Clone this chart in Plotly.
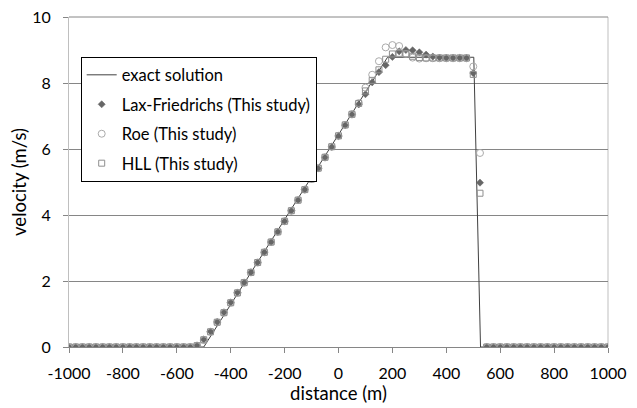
import plotly.graph_objects as go

# distance grid of the numerical solutions (m)
distance = list(range(-1000, 1001, 25))

zeros19 = [0.0] * 19

# Lax-Friedrichs (This study)
lf_mid = [0.05, 0.23, 0.47, 0.76, 1.05, 1.35, 1.65, 1.95, 2.26, 2.56, 2.87, 3.18, 3.49,
          3.81, 4.13, 4.45, 4.77, 5.09, 5.41, 5.74, 6.06, 6.39, 6.72, 7.04, 7.35, 7.66,
          8.02, 8.33, 8.54, 8.79, 8.96, 9.00, 8.99, 8.93, 8.86, 8.80, 8.77, 8.76, 8.76,
          8.76, 8.76, 8.30, 4.98]
lax_friedrichs = zeros19 + lf_mid + zeros19

# Roe (This study)
roe_mid = [0.03, 0.21, 0.46, 0.75, 1.04, 1.34, 1.64, 1.95, 2.26, 2.56, 2.87, 3.18, 3.49,
           3.81, 4.13, 4.45, 4.77, 5.09, 5.42, 5.75, 6.07, 6.40, 6.73, 7.06, 7.39, 7.86,
           8.25, 8.66, 9.08, 9.15, 9.12, 8.88, 8.77, 8.74, 8.75, 8.75, 8.75, 8.75, 8.75,
           8.75, 8.75, 8.50, 5.88]
roe = zeros19 + roe_mid + zeros19

# HLL (This study)
hll_mid = [0.04, 0.22, 0.46, 0.75, 1.04, 1.34, 1.64, 1.95, 2.26, 2.56, 2.87, 3.18, 3.49,
           3.81, 4.13, 4.45, 4.77, 5.09, 5.42, 5.75, 6.07, 6.40, 6.73, 7.05, 7.38, 7.76,
           8.08, 8.40, 8.72, 8.88, 8.90, 8.88, 8.81, 8.77, 8.76, 8.76, 8.76, 8.76, 8.76,
           8.76, 8.76, 8.26, 4.66]
hll = zeros19 + hll_mid + zeros19

# exact solution (polyline vertices)
exact_x = [-1000, -500, 182, 502, 527, 1000]
exact_v = [0.0, 0.0, 8.78, 8.78, 0.0, 0.0]

x_ticks = [-1000, -800, -600, -400, -200, 0, 200, 400, 600, 800, 1000]
y_ticks = [0, 2, 4, 6, 8, 10]

FONT = "Lato"
GRID = "#868686"

fig = go.Figure()
fig.add_trace(go.Scatter(
    x=exact_x, y=exact_v, mode="lines", name="exact solution",
    line=dict(color="#404040", width=1), legendgroup="a"))
fig.add_trace(go.Scatter(
    x=distance, y=lax_friedrichs, mode="markers", name="Lax-Friedrichs (This study)",
    marker=dict(symbol="diamond", size=5.5, color="#666666",
                line=dict(color="#666666", width=0.5)), legendgroup="b"))
fig.add_trace(go.Scatter(
    x=distance, y=roe, mode="markers", name="Roe (This study)",
    marker=dict(symbol="circle-open", size=7, color="#ababab",
                line=dict(color="#ababab", width=1)), legendgroup="c"))
fig.add_trace(go.Scatter(
    x=distance, y=hll, mode="markers", name="HLL (This study)",
    marker=dict(symbol="square-open", size=6, color="#8f8f8f",
                line=dict(color="#8f8f8f", width=1)), legendgroup="d"))

# the page body adds an 8px offset, so the figure is 8px smaller on each side
fig.update_layout(
    width=629, height=400,
    margin=dict(l=61, r=29, t=9, b=61, autoexpand=False),
    paper_bgcolor="white", plot_bgcolor="white",
    font=dict(family=FONT, size=16, color="black"),
    showlegend=True,
    legend=dict(
        x=0.0217, y=0.88, xanchor="left", yanchor="top",
        bgcolor="white", bordercolor="black", borderwidth=1,
        font=dict(family=FONT, size=16.5, color="black"),
        traceorder="grouped", tracegroupgap=5, itemwidth=30,
    ),
    shapes=[
        dict(type="line", xref="paper", yref="paper", x0=1, x1=1, y0=0, y1=1,
             line=dict(color="#bfbfbf", width=1), layer="below"),
        dict(type="line", xref="paper", yref="paper", x0=0, x1=1, y0=1, y1=1,
             line=dict(color=GRID, width=1), layer="below"),
    ],
)
fig.update_xaxes(
    range=[-1000, 1000], tickvals=x_ticks, ticktext=[str(v) for v in x_ticks],
    automargin=False, ticklabeloverflow="allow",
    showgrid=False, zeroline=False,
    showline=True, linecolor=GRID, linewidth=1,
    ticks="outside", ticklen=5, tickcolor=GRID,
    ticklabelstandoff=7, tickfont=dict(size=16),
    title=dict(text="distance (m)", font=dict(family=FONT, size=18.5), standoff=0),
)
fig.update_yaxes(
    range=[0, 10], tickvals=y_ticks, ticktext=[str(v) for v in y_ticks],
    automargin=False, ticklabeloverflow="allow",
    showgrid=True, gridcolor=GRID, gridwidth=1, zeroline=False,
    showline=True, linecolor="#bfbfbf", linewidth=1,
    ticks="outside", ticklen=5, tickcolor=GRID,
    ticklabelstandoff=9, tickfont=dict(size=16),
    title=dict(text="velocity (m/s)", font=dict(family=FONT, size=18.5), standoff=0),
)

fig.write_html("out.html")
